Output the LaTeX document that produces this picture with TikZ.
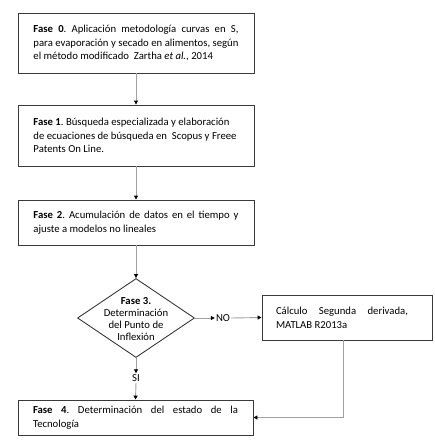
\documentclass[tikz,border=0pt]{standalone}
\usepackage{fontspec}
\setmainfont{Carlito}
\usetikzlibrary{arrows.meta,shapes.geometric}
\definecolor{boxc}{HTML}{3A3A3A}
\definecolor{linec}{HTML}{A0A0A0}
\begin{document}
\begin{tikzpicture}[x=1pt,y=-1pt,
  box/.style={draw=boxc, line width=0.9pt, inner sep=0pt, font=\fontsize{10.7}{13.8}\selectfont\frenchspacing, align=left},
  conn/.style={draw=linec, line width=0.9pt, -{Triangle[length=4pt,width=4pt,color=black]}},
  lab/.style={font=\fontsize{10.7}{13}\selectfont, inner sep=1pt},
  dtext/.style={font=\fontsize{10.7}{12}\selectfont, align=center, inner sep=0pt}]
\useasboundingbox[fill=white] (0,0) rectangle (435,448);
\node[box, minimum width=236pt, minimum height=60pt] (f0) at (136,43)
  {\makebox[205pt][s]{\textbf{Fase 0}. Aplicación metodología curvas en S,}\\
   \makebox[205pt][s]{para evaporación y secado en alimentos, según}\\
   el método modificado\ \ Zartha \textit{et al.}, 2014};
\node[box, minimum width=236pt, minimum height=61pt] (f1) at (136,135.5)
  {\makebox[205pt][l]{\textbf{Fase 1}. Búsqueda especializada y elaboración}\\
   de ecuaciones de búsqueda en\ \ Scopus y Freee\\
   Patents On Line.};
\node[box, minimum width=236pt, minimum height=45pt] (f2) at (136,222.5)
  {\makebox[205pt][s]{\textbf{Fase 2}. Acumulación de datos en el tiempo y}\\
   ajuste a modelos no lineales};
\node[draw=boxc, line width=0.9pt, diamond, minimum width=117pt, minimum height=79pt, inner sep=0pt] (d) at (136,318) {};
\node[dtext] (dt) at (136,319.5) {\textbf{Fase 3.}\\Determinación\\del Punto de\\Inflexión};
\node[box, minimum width=170pt, minimum height=45pt] (r) at (347,317.5)
  {\makebox[142pt][l]{\makebox[132pt][s]{Cálculo Segunda derivada,}}\\
   MATLAB R2013a};
\node[box, minimum width=235pt, minimum height=35pt] (f4) at (135.5,417.5)
  {\makebox[205pt][s]{\textbf{Fase 4}. Determinación del estado de la}\\
   Tecnología};
\node[lab] (no) at (223,318) {NO};
\node[lab] (si) at (136,378) {SI};
\draw[conn] (f0) -- (f1);
\draw[conn] (f1) -- (f2);
\draw[conn] (f2) -- (d);
\draw[conn] (d.east) -- (no.west);
\draw[conn] (no.east) -- (r.west);
\draw[conn] (d.south) -- (si.north);
\draw[conn] (si.south) -- (f4.north);
\draw[conn] ([xshift=-4pt]r.south) |- (f4.east);
\end{tikzpicture}
\end{document}
